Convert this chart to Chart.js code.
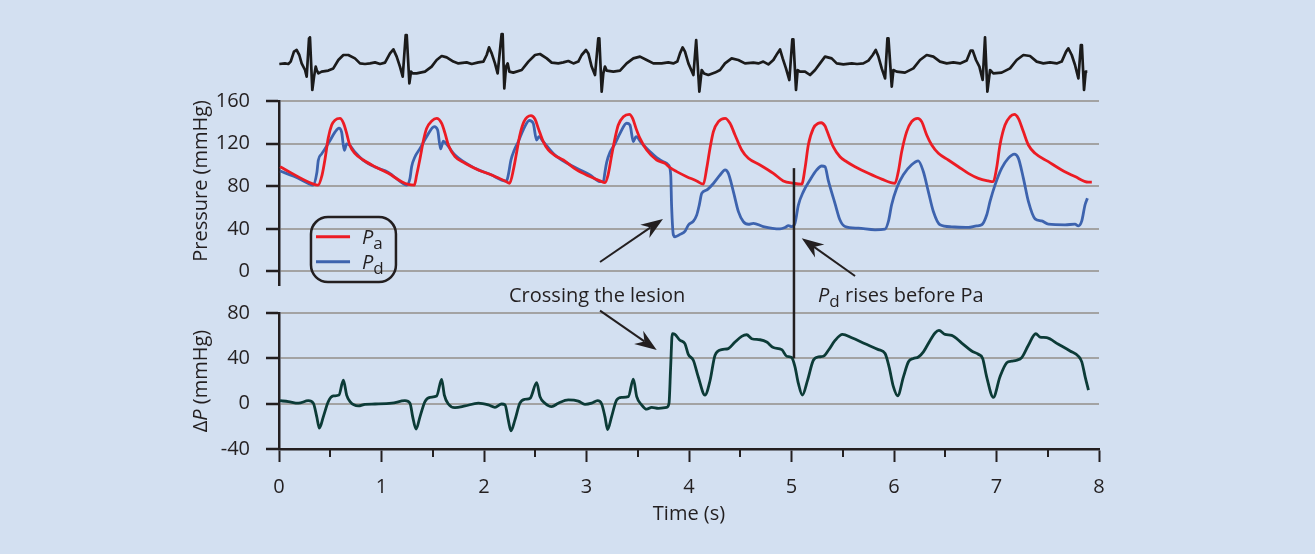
<!DOCTYPE html>
<html><head><meta charset="utf-8">
<script src="https://cdn.jsdelivr.net/npm/chart.js@4.4.1/dist/chart.umd.min.js"></script>
<style>html,body{margin:0;padding:0;background:#d3e0f1;}canvas{display:block;}</style>
</head><body>
<canvas id="c" width="1315" height="554"></canvas>
<script>
// ---- tick labels ----
const timeTicks = [0, 1, 2, 3, 4, 5, 6, 7, 8];
const timeMinorTicks = [0.5, 1.5, 2.5, 3.5, 4.5, 5.5, 6.5, 7.5];
const pressureTicks = [0, 40, 80, 120, 160];
const deltaTicks = [-40, 0, 40, 80];

// ---- series: [time (s), value] ----
const ecg = [[0.003,0.05],[0.058,0.08],[0.091,0.05],[0.114,0.17],[0.146,0.67],[0.172,0.75],[0.198,0.5],[0.221,0.08],[0.254,-0.25],[0.27,-0.58],[0.293,1.33],[0.302,1.38],[0.325,-1.25],[0.342,-0.58],[0.358,-0.08],[0.368,-0.25],[0.384,-0.42],[0.416,-0.33],[0.481,-0.28],[0.53,-0.17],[0.579,0.25],[0.628,0.5],[0.676,0.5],[0.741,0.33],[0.79,0.08],[0.839,0.05],[0.888,0.08],[0.937,0.13],[0.986,0.05],[1.034,0.12],[1.083,0.58],[1.116,0.78],[1.148,0.42],[1.18,-0.08],[1.207,-0.58],[1.236,1.5],[1.246,1.5],[1.272,-0.92],[1.288,-0.33],[1.304,-0.42],[1.343,-0.42],[1.424,-0.33],[1.489,-0.08],[1.538,0.25],[1.587,0.45],[1.636,0.38],[1.701,0.17],[1.75,0.08],[1.831,0.13],[1.88,0.05],[1.945,0.13],[1.994,0.17],[2.026,0.5],[2.049,0.88],[2.075,0.58],[2.107,0.08],[2.133,-0.42],[2.172,1.55],[2.182,1.55],[2.198,-1.17],[2.215,-0.08],[2.231,0.08],[2.247,-0.33],[2.286,-0.38],[2.368,-0.25],[2.433,0.17],[2.498,0.5],[2.546,0.55],[2.612,0.33],[2.66,0.12],[2.725,0.08],[2.774,0.13],[2.823,0.2],[2.872,0.08],[2.92,0.17],[2.953,0.5],[2.995,0.75],[3.018,0.58],[3.05,-0.08],[3.083,-0.5],[3.115,1.33],[3.125,1.33],[3.148,-1.33],[3.164,-0.42],[3.18,-0.08],[3.197,-0.28],[3.262,-0.33],[3.327,-0.28],[3.392,0.08],[3.457,0.33],[3.522,0.42],[3.587,0.25],[3.652,0.08],[3.733,0.08],[3.798,0.13],[3.847,0.08],[3.886,0.17],[3.912,0.58],[3.938,0.88],[3.961,0.67],[3.994,0.08],[4.043,-0.5],[4.07,1.25],[4.078,1.25],[4.101,-1.33],[4.124,-0.25],[4.147,-0.42],[4.189,-0.5],[4.254,-0.38],[4.303,-0.25],[4.351,0.08],[4.416,0.33],[4.481,0.25],[4.546,0.08],[4.628,0.12],[4.677,0.08],[4.725,0.17],[4.774,0.03],[4.823,0.25],[4.862,0.58],[4.888,0.78],[4.914,0.33],[4.946,-0.17],[4.979,-0.75],[5.008,1.28],[5.018,1.28],[5.044,-1.25],[5.06,-0.25],[5.083,-0.33],[5.132,-0.33],[5.181,-0.5],[5.23,-0.25],[5.278,0.08],[5.327,0.42],[5.392,0.33],[5.441,0.08],[5.506,0.03],[5.588,0.08],[5.64,0.05],[5.701,0.08],[5.75,0.22],[5.792,0.5],[5.822,0.75],[5.848,0.42],[5.88,-0.17],[5.913,-0.67],[5.936,1.33],[5.946,1.33],[5.978,-1.08],[5.994,-0.25],[6.026,-0.33],[6.107,-0.38],[6.189,-0.17],[6.254,0.25],[6.319,0.5],[6.384,0.42],[6.449,0.17],[6.514,0.08],[6.579,0.13],[6.644,0.08],[6.709,0.22],[6.748,0.72],[6.768,0.72],[6.8,0.25],[6.833,-0.08],[6.865,-0.75],[6.888,1.38],[6.911,-1.33],[6.937,-0.25],[6.969,-0.42],[7.05,-0.38],[7.132,-0.17],[7.197,0.25],[7.262,0.5],[7.327,0.45],[7.392,0.17],[7.457,0.08],[7.522,0.13],[7.587,0.08],[7.636,0.17],[7.679,0.67],[7.701,0.83],[7.734,0.5],[7.766,0],[7.799,-0.67],[7.823,1.0],[7.833,1.0],[7.854,-1.25],[7.87,-0.33],[7.886,-0.33]];

const pa = [[0.01,98.3],[0.335,82],[0.38,81],[0.42,90.5],[0.45,106],[0.48,125],[0.514,137.4],[0.546,142],[0.595,143.7],[0.63,139],[0.66,129.6],[0.69,118.7],[0.74,110.9],[0.823,104.6],[0.937,98.3],[1.067,92.1],[1.197,84.3],[1.262,81.7],[1.32,81],[1.343,90.5],[1.376,106],[1.41,123.4],[1.44,134.3],[1.49,141.2],[1.538,143.7],[1.587,139],[1.62,129.6],[1.652,118.7],[1.717,107.8],[1.815,101.6],[1.945,95.3],[2.075,90.5],[2.205,84.9],[2.25,82.8],[2.29,97],[2.32,112.6],[2.35,128.1],[2.39,140.6],[2.458,146.2],[2.497,143.1],[2.53,134.3],[2.578,121.9],[2.627,114.1],[2.693,108.8],[2.774,104.6],[2.904,95.3],[3.034,89.1],[3.132,85],[3.18,83.4],[3.21,90.5],[3.246,109.3],[3.278,124.9],[3.31,137.4],[3.36,145.2],[3.418,147.4],[3.45,143.7],[3.483,134.3],[3.522,124.9],[3.587,114],[3.685,104.6],[3.766,101.5],[3.815,97.4],[3.88,93.7],[3.978,89],[4.075,85],[4.14,81.9],[4.173,97],[4.205,115.7],[4.238,131.3],[4.287,140.6],[4.352,143.7],[4.4,139.1],[4.449,128.1],[4.514,114],[4.579,106.2],[4.693,100],[4.823,92.1],[4.92,85],[5.018,82.8],[5.1,81.9],[5.132,97],[5.164,118.7],[5.213,134.3],[5.262,139.1],[5.29,139.6],[5.327,136.5],[5.343,132.8],[5.408,117],[5.473,107.7],[5.538,103],[5.62,98.3],[5.75,92.1],[5.88,86.7],[6.01,82.8],[6.042,93.7],[6.075,112.4],[6.124,131.3],[6.172,140.6],[6.231,143.7],[6.27,140.6],[6.319,128.1],[6.368,118.7],[6.433,110.9],[6.53,104.6],[6.628,98.3],[6.725,92.1],[6.823,87.4],[6.92,85],[6.969,84.3],[7.001,97],[7.034,118.7],[7.083,137.4],[7.132,145.2],[7.174,147.4],[7.213,143.7],[7.262,131.3],[7.311,118.7],[7.376,110.9],[7.506,103.1],[7.636,95.3],[7.766,89.1],[7.896,83.8],[7.93,83.8]];

const pd = [[0.01,94.3],[0.156,88.9],[0.286,82.6],[0.33,81],[0.37,93.2],[0.383,104.2],[0.416,110.4],[0.449,115.1],[0.498,123],[0.546,130.8],[0.585,134.6],[0.611,130.8],[0.637,113.6],[0.66,119.8],[0.69,118.4],[0.74,112.2],[0.82,104.6],[0.937,98],[1.067,93],[1.197,83.4],[1.245,81],[1.278,87.5],[1.294,98.3],[1.327,107.7],[1.376,115.5],[1.44,126.5],[1.515,136],[1.548,132.6],[1.577,115],[1.603,122.4],[1.636,119.3],[1.717,109.3],[1.912,96.9],[2.075,90.5],[2.172,85.8],[2.22,84.9],[2.237,90.5],[2.263,104.6],[2.296,114],[2.335,121.9],[2.383,132.9],[2.442,141.7],[2.48,139.1],[2.513,123.4],[2.536,126.5],[2.578,121.9],[2.69,109.4],[2.904,96.9],[3.034,90.5],[3.1,85.8],[3.13,84.3],[3.164,84.3],[3.18,93.2],[3.197,102.5],[3.23,112],[3.278,119.9],[3.327,129.6],[3.392,139.1],[3.424,137.5],[3.457,121.9],[3.483,126.5],[3.538,120.3],[3.62,112.4],[3.685,106.8],[3.75,103],[3.8,99.9],[3.822,90.5],[3.83,62.3],[3.848,34.2],[3.864,32.6],[3.913,34.8],[3.962,37.9],[3.994,43.6],[4.043,47.3],[4.075,52.9],[4.1,62.3],[4.124,73.3],[4.173,76.4],[4.238,82.6],[4.303,90.5],[4.352,95.3],[4.384,92.1],[4.433,75],[4.482,56.2],[4.53,46.8],[4.579,44.3],[4.628,45.2],[4.725,42.1],[4.888,39.9],[4.937,41.2],[4.97,43],[5.002,42.1],[5.034,45.2],[5.067,62.3],[5.116,75],[5.18,85.8],[5.246,95.3],[5.294,99],[5.327,98.3],[5.36,85],[5.424,64],[5.473,48.3],[5.522,42.2],[5.652,40.6],[5.815,39.1],[5.912,39.7],[5.945,46.9],[5.977,62.6],[6.026,78.2],[6.091,90.7],[6.172,100.1],[6.237,103.8],[6.286,93.8],[6.335,75],[6.384,56.3],[6.449,43.8],[6.563,41.9],[6.725,41.3],[6.807,42.8],[6.856,43.8],[6.905,53.2],[6.937,65.7],[6.986,81.3],[7.051,97],[7.116,106.4],[7.174,110.2],[7.213,106.4],[7.262,87.6],[7.311,65.7],[7.376,49.4],[7.441,47.5],[7.506,44.4],[7.669,43.8],[7.766,44.4],[7.799,42.8],[7.832,47.5],[7.864,62.6],[7.887,68.8]];

const deltaP = [[0.01,2.6],[0.091,1.8],[0.189,0.4],[0.286,2.6],[0.335,0.4],[0.368,-11.4],[0.394,-21.6],[0.433,-11.4],[0.481,1.8],[0.53,6.8],[0.585,7.6],[0.628,20.8],[0.66,7.6],[0.693,1.8],[0.774,-2],[0.839,-0.6],[0.937,-0.3],[1.1,0.4],[1.229,2.6],[1.278,0.4],[1.304,-11.4],[1.337,-22.5],[1.376,-11.4],[1.424,1.8],[1.473,5.6],[1.538,6.8],[1.587,21.4],[1.613,7.6],[1.652,-0.3],[1.717,-3.5],[1.815,-2],[1.945,0.4],[2.042,-1.1],[2.107,-3.2],[2.172,-0.3],[2.205,-1.1],[2.237,-14.3],[2.263,-24],[2.302,-14.3],[2.35,0.4],[2.4,3.9],[2.45,4.8],[2.514,18.5],[2.546,6.2],[2.595,0.4],[2.66,-2.6],[2.725,0.4],[2.822,3.3],[2.92,2.3],[2.985,-0.6],[3.05,0.4],[3.108,2.6],[3.148,-0.3],[3.18,-11.4],[3.206,-22.8],[3.245,-11.4],[3.294,3.3],[3.343,5.6],[3.408,6.2],[3.457,21.7],[3.49,6.2],[3.538,-1.1],[3.587,-4.9],[3.636,-3.2],[3.701,-4.1],[3.782,-3.2],[3.805,0.4],[3.821,32.5],[3.837,61.7],[3.863,61.1],[3.912,55.9],[3.96,53],[3.993,43.5],[4.042,38.3],[4.09,23.7],[4.156,7.6],[4.205,20.2],[4.254,42.7],[4.319,47.7],[4.384,48.6],[4.449,54.4],[4.514,59.4],[4.563,60.8],[4.612,57.3],[4.693,56.4],[4.758,54.4],[4.823,49.5],[4.905,47.7],[4.953,41.8],[5.002,40.7],[5.034,32.5],[5.067,17.9],[5.106,7.6],[5.157,20.8],[5.213,38.3],[5.262,41.2],[5.311,41.8],[5.36,47.1],[5.425,55.8],[5.497,61.1],[5.588,58.1],[5.718,52.9],[5.848,47.7],[5.913,44.2],[5.952,32.5],[5.994,15],[6.036,7],[6.092,23.7],[6.141,37],[6.189,39.9],[6.238,41.2],[6.287,45.7],[6.352,55.8],[6.4,62.3],[6.439,64.6],[6.498,61.1],[6.563,60.2],[6.661,53.5],[6.758,46.5],[6.823,43.6],[6.865,39.9],[6.904,23.7],[6.969,5.6],[7.034,23.7],[7.1,36.1],[7.148,37.5],[7.197,38.3],[7.246,40.7],[7.311,51.5],[7.383,61.7],[7.425,58.8],[7.49,58.2],[7.604,52.4],[7.718,46.5],[7.8,41.8],[7.832,36.9],[7.865,23.7],[7.897,12]];

// ---- annotation anchors (data units: t in s, p on pressure axis, d on ΔP axis) ----
const notes = {
  lesionText: {t: 2.244, p: -28.6},
  lesionArrowUp: {t1: 3.132, p1: 8.9, t2: 3.746, p2: 49.3},
  lesionArrowDown: {t1: 3.132, d1: 82.1, t2: 3.685, d2: 47.4},
  riseText: {t: 5.259, p: -28.6},
  riseArrow: {t1: 5.62, p1: -4.2, t2: 5.10, p2: 31.2},
  marker: {t: 5.024, p: 97, d: 40},
  legend: {t1: 0.312, t2: 1.141, p1: 51.1, p2: -9.9, lt1: 0.361, lt2: 0.693, pa: 32.7, pd: 9.2, tt: 0.81},
  pressureTitle: {p: 85},
  deltaTitle: {d: 20}
};

const INK = '#231f20';
const GRID = '#a3a3a3';
const RED = '#ec1c24';
const BLUE = '#3d63ae';
const TEAL = '#0c3b37';
const FAM = '"Open Sans", sans-serif';

Chart.defaults.font.family = FAM;
Chart.defaults.font.size = 20;
Chart.defaults.color = INK;

const toXY = arr => arr.map(([x, y]) => ({x, y}));

function richWidth(ctx, parts) {
  let w = 0;
  for (const p of parts) { ctx.font = p.font; w += ctx.measureText(p.text).width; }
  return w;
}
function drawRich(ctx, parts, x, y) {
  let cx = x;
  for (const p of parts) {
    ctx.font = p.font;
    ctx.fillText(p.text, cx, y + (p.dy || 0));
    cx += ctx.measureText(p.text).width;
  }
}
function arrow(ctx, x1, y1, x2, y2) {
  const a = Math.atan2(y2 - y1, x2 - x1);
  const L = 22, W = 8, N = 15;
  const c = Math.cos(a), s = Math.sin(a);
  const bx = x2 - N * c, by = y2 - N * s;
  ctx.beginPath(); ctx.moveTo(x1, y1); ctx.lineTo(bx, by); ctx.stroke();
  ctx.beginPath();
  ctx.moveTo(x2, y2);
  ctx.lineTo(x2 - L * c + W * s, y2 - L * s - W * c);
  ctx.lineTo(bx, by);
  ctx.lineTo(x2 - L * c - W * s, y2 - L * s + W * c);
  ctx.closePath(); ctx.fill();
}
function roundRect(ctx, x, y, w, h, r) {
  ctx.beginPath();
  ctx.moveTo(x + r, y);
  ctx.lineTo(x + w - r, y); ctx.arcTo(x + w, y, x + w, y + r, r);
  ctx.lineTo(x + w, y + h - r); ctx.arcTo(x + w, y + h, x + w - r, y + h, r);
  ctx.lineTo(x + r, y + h); ctx.arcTo(x, y + h, x, y + h - r, r);
  ctx.lineTo(x, y + r); ctx.arcTo(x, y, x + r, y, r);
  ctx.closePath();
}

const annotations = {
  id: 'annotations',
  afterDraw(chart) {
    const {ctx, chartArea: ca} = chart;
    const X = chart.scales.x, P = chart.scales.yP, D = chart.scales.yD;
    const reg = '20px ' + FAM, ital = 'italic 20px ' + FAM, sub = '17px ' + FAM;
    ctx.save();
    ctx.strokeStyle = INK; ctx.fillStyle = INK;
    // minor time ticks
    ctx.lineWidth = 2;
    for (const v of timeMinorTicks) {
      const px = Math.round(X.getPixelForValue(v));
      ctx.beginPath(); ctx.moveTo(px, ca.bottom); ctx.lineTo(px, ca.bottom + 8); ctx.stroke();
    }
    // marker line
    const m = notes.marker;
    ctx.lineWidth = 2.5;
    ctx.beginPath();
    ctx.moveTo(X.getPixelForValue(m.t), P.getPixelForValue(m.p));
    ctx.lineTo(X.getPixelForValue(m.t), D.getPixelForValue(m.d));
    ctx.stroke();
    // arrows
    ctx.lineWidth = 2;
    let a = notes.lesionArrowUp;
    arrow(ctx, X.getPixelForValue(a.t1), P.getPixelForValue(a.p1), X.getPixelForValue(a.t2), P.getPixelForValue(a.p2));
    a = notes.lesionArrowDown;
    arrow(ctx, X.getPixelForValue(a.t1), D.getPixelForValue(a.d1), X.getPixelForValue(a.t2), D.getPixelForValue(a.d2));
    a = notes.riseArrow;
    arrow(ctx, X.getPixelForValue(a.t1), P.getPixelForValue(a.p1), X.getPixelForValue(a.t2), P.getPixelForValue(a.p2));
    // texts
    ctx.textBaseline = 'alphabetic'; ctx.textAlign = 'left';
    ctx.font = reg;
    ctx.fillText('Crossing the lesion', X.getPixelForValue(notes.lesionText.t), P.getPixelForValue(notes.lesionText.p));
    drawRich(ctx, [{text: 'P', font: ital}, {text: 'd', font: sub, dy: 5}, {text: ' rises before Pa', font: reg}],
      X.getPixelForValue(notes.riseText.t), P.getPixelForValue(notes.riseText.p));
    // legend
    const L = notes.legend;
    const lx1 = X.getPixelForValue(L.t1), lx2 = X.getPixelForValue(L.t2);
    const ly1 = P.getPixelForValue(L.p1), ly2 = P.getPixelForValue(L.p2);
    ctx.lineWidth = 2.5;
    roundRect(ctx, lx1, ly1, lx2 - lx1, ly2 - ly1, 17);
    ctx.stroke();
    ctx.lineWidth = 3;
    ctx.strokeStyle = RED;
    ctx.beginPath(); ctx.moveTo(X.getPixelForValue(L.lt1), P.getPixelForValue(L.pa)); ctx.lineTo(X.getPixelForValue(L.lt2), P.getPixelForValue(L.pa)); ctx.stroke();
    ctx.strokeStyle = BLUE;
    ctx.beginPath(); ctx.moveTo(X.getPixelForValue(L.lt1), P.getPixelForValue(L.pd)); ctx.lineTo(X.getPixelForValue(L.lt2), P.getPixelForValue(L.pd)); ctx.stroke();
    drawRich(ctx, [{text: 'P', font: ital}, {text: 'a', font: sub, dy: 5}], X.getPixelForValue(L.tt), P.getPixelForValue(L.pa) + 7);
    drawRich(ctx, [{text: 'P', font: ital}, {text: 'd', font: sub, dy: 5}], X.getPixelForValue(L.tt), P.getPixelForValue(L.pd) + 7);
    // rotated axis titles
    ctx.textBaseline = 'middle';
    const tx = ca.left - 78;
    let parts = [{text: 'Pressure (mmHg)', font: reg}];
    ctx.save(); ctx.translate(tx, P.getPixelForValue(notes.pressureTitle.p)); ctx.rotate(-Math.PI / 2);
    drawRich(ctx, parts, -richWidth(ctx, parts) / 2, 0); ctx.restore();
    parts = [{text: 'Δ', font: reg}, {text: 'P', font: ital}, {text: ' (mmHg)', font: reg}];
    ctx.save(); ctx.translate(tx, D.getPixelForValue(notes.deltaTitle.d)); ctx.rotate(-Math.PI / 2);
    drawRich(ctx, parts, -richWidth(ctx, parts) / 2, 0); ctx.restore();
    ctx.restore();
  }
};

const fixTicks = list => scale => { scale.ticks = list.map(v => ({value: v})); };
const yAxisCommon = {
  type: 'linear', position: 'left', stack: 'panels',
  border: {display: true, color: INK, width: 2.5},
  ticks: {padding: 16, autoSkip: false, color: INK},
  afterFit: s => { s.width = 279; }
};

new Chart(document.getElementById('c'), {
  type: 'line',
  data: {
    datasets: [
      {label: 'ECG', data: toXY(ecg), yAxisID: 'yE', borderColor: '#1b1b1b', borderWidth: 2.7, tension: 0, borderJoinStyle: 'round'},
      {label: 'Pa', data: toXY(pa), yAxisID: 'yP', borderColor: RED, borderWidth: 2.8, cubicInterpolationMode: 'monotone', borderJoinStyle: 'round'},
      {label: 'Pd', data: toXY(pd), yAxisID: 'yP', borderColor: BLUE, borderWidth: 2.8, cubicInterpolationMode: 'monotone', borderJoinStyle: 'round'},
      {label: 'ΔP', data: toXY(deltaP), yAxisID: 'yD', borderColor: TEAL, borderWidth: 2.8, cubicInterpolationMode: 'monotone', borderJoinStyle: 'round'}
    ]
  },
  options: {
    responsive: false, animation: false,
    layout: {padding: {top: 28, right: 216, left: 0, bottom: 0}},
    elements: {point: {radius: 0}},
    plugins: {legend: {display: false}, tooltip: {enabled: false}},
    scales: {
      x: {
        type: 'linear', position: 'bottom', min: 0, max: 8,
        afterBuildTicks: fixTicks(timeTicks),
        ticks: {padding: 13, color: INK, autoSkip: false, maxRotation: 0},
        grid: {drawOnChartArea: false, tickLength: 13, tickColor: INK, tickWidth: 2},
        border: {display: true, color: INK, width: 2.5},
        title: {display: true, text: 'Time (s)', color: INK, font: {size: 20}, padding: {top: 0, bottom: 28}},
        afterFit: s => { s.height = 105; }
      },
      yE: {type: 'linear', position: 'left', stack: 'panels', stackWeight: 73, weight: 4, min: -1.8, max: 1.85, display: false},
      yP: Object.assign({}, yAxisCommon, {
        stackWeight: 184, weight: 3, min: -12.7, max: 160,
        afterBuildTicks: fixTicks(pressureTicks),
        grid: {color: GRID, lineWidth: 2, tickLength: 13, tickColor: INK, tickWidth: 2.5}
      }),
      yG: {type: 'linear', position: 'left', stack: 'panels', stackWeight: 28, weight: 2, min: 0, max: 1, display: false},
      yD: Object.assign({}, yAxisCommon, {
        stackWeight: 136, weight: 1, min: -40, max: 80,
        afterBuildTicks: fixTicks(deltaTicks),
        grid: {color: c => (c.tick && c.tick.value === -40 ? 'rgba(0,0,0,0)' : GRID), lineWidth: 2, tickLength: 13, tickColor: INK, tickWidth: 2.5}
      })
    }
  },
  plugins: [annotations]
});
</script>
</body></html>
